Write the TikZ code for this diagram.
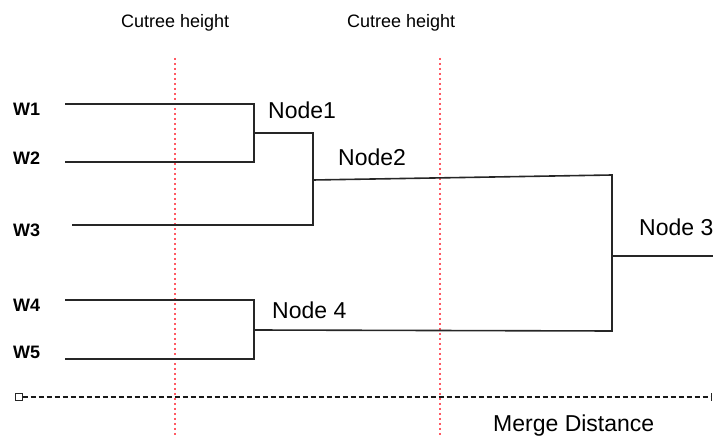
\documentclass[tikz,border=0pt]{standalone}
\usepackage{fontspec}
\setmainfont{Liberation Sans}
\begin{document}
\begin{tikzpicture}[x=1pt,y=-1pt,
  lbl/.style={anchor=base west,inner sep=0pt,font=\fontsize{23}{27}\selectfont},
  leaf/.style={anchor=base west,inner sep=0pt,font=\fontsize{18}{22}\selectfont\bfseries},
  cut/.style={anchor=base west,inner sep=0pt,font=\fontsize{18}{22}\selectfont},
  branch/.style={draw=black!85,line width=1.6pt},
  cutline/.style={draw={rgb,255:red,255;green,90;blue,100},line width=1.6pt,dash pattern=on 1.6pt off 3.4pt},
  mergeline/.style={draw=black!90,line width=1.2pt,dash pattern=on 5pt off 3pt}]
\useasboundingbox (0,0) rectangle (713,438);

% cut height markers
\node[cut] (cutA) at (121,28) {Cutree height};
\node[cut] (cutB) at (347,28) {Cutree height};
\coordinate (cutAtop) at (175,58);
\coordinate (cutAbot) at (175,438);
\coordinate (cutBtop) at (440,58);
\coordinate (cutBbot) at (440,438);
\draw[cutline] (cutAtop) -- (cutAbot);
\draw[cutline] (cutBtop) -- (cutBbot);

% leaves
\node[leaf] (W1) at (13,115.7) {W1};
\node[leaf] (W2) at (13,165) {W2};
\node[leaf] (W3) at (13,237) {W3};
\node[leaf] (W4) at (13,311.7) {W4};
\node[leaf] (W5) at (13,359) {W5};

\coordinate (w1s) at (65,104);
\coordinate (w2s) at (65,162);
\coordinate (w3s) at (72,225);
\coordinate (w4s) at (65,300);
\coordinate (w5s) at (65,359);

% merge points
\coordinate (n1a) at (254,104);
\coordinate (n1b) at (254,162);
\coordinate (n1m) at (254,133);
\coordinate (n2a) at (313,133);
\coordinate (n2b) at (313,225);
\coordinate (n2m) at (313,180);
\coordinate (n4a) at (254,300);
\coordinate (n4b) at (254,359);
\coordinate (n4m) at (254,330);
\coordinate (n3a) at (612,175);
\coordinate (n3b) at (612,331);
\coordinate (n3m) at (612,256);
\coordinate (n3end) at (713,256);

% dendrogram branches
\draw[branch] (w1s) -- (n1a) -- (n1b) -- (w2s);
\draw[branch] (n1m) -- (n2a) -- (n2b) -- (w3s);
\draw[branch] (w4s) -- (n4a) -- (n4b) -- (w5s);
\draw[branch] (n2m) -- (n3a) -- (n3b) -- (n4m);
\draw[branch] (n3m) -- (n3end);

% node labels
\node[lbl] (L1) at (268,119) {Node1};
\node[lbl] (L2) at (338,165.7) {Node2};
\node[lbl] (L3) at (639,236) {Node 3};
\node[lbl] (L4) at (272,319) {Node 4};

% merge distance axis
\coordinate (mdL) at (22.5,397);
\coordinate (mdR) at (711,397);
\draw[mergeline] (mdL) -- (mdR);
\node[draw=black!85,fill=white,line width=1pt,minimum size=7pt,inner sep=0pt] (mdBox) at (19,397) {};
\draw[black!85,line width=1pt] ([yshift=-4pt]mdR) -- ([yshift=4pt]mdR);
\node[lbl] (MD) at (493,432) {Merge Distance};
\end{tikzpicture}
\end{document}
